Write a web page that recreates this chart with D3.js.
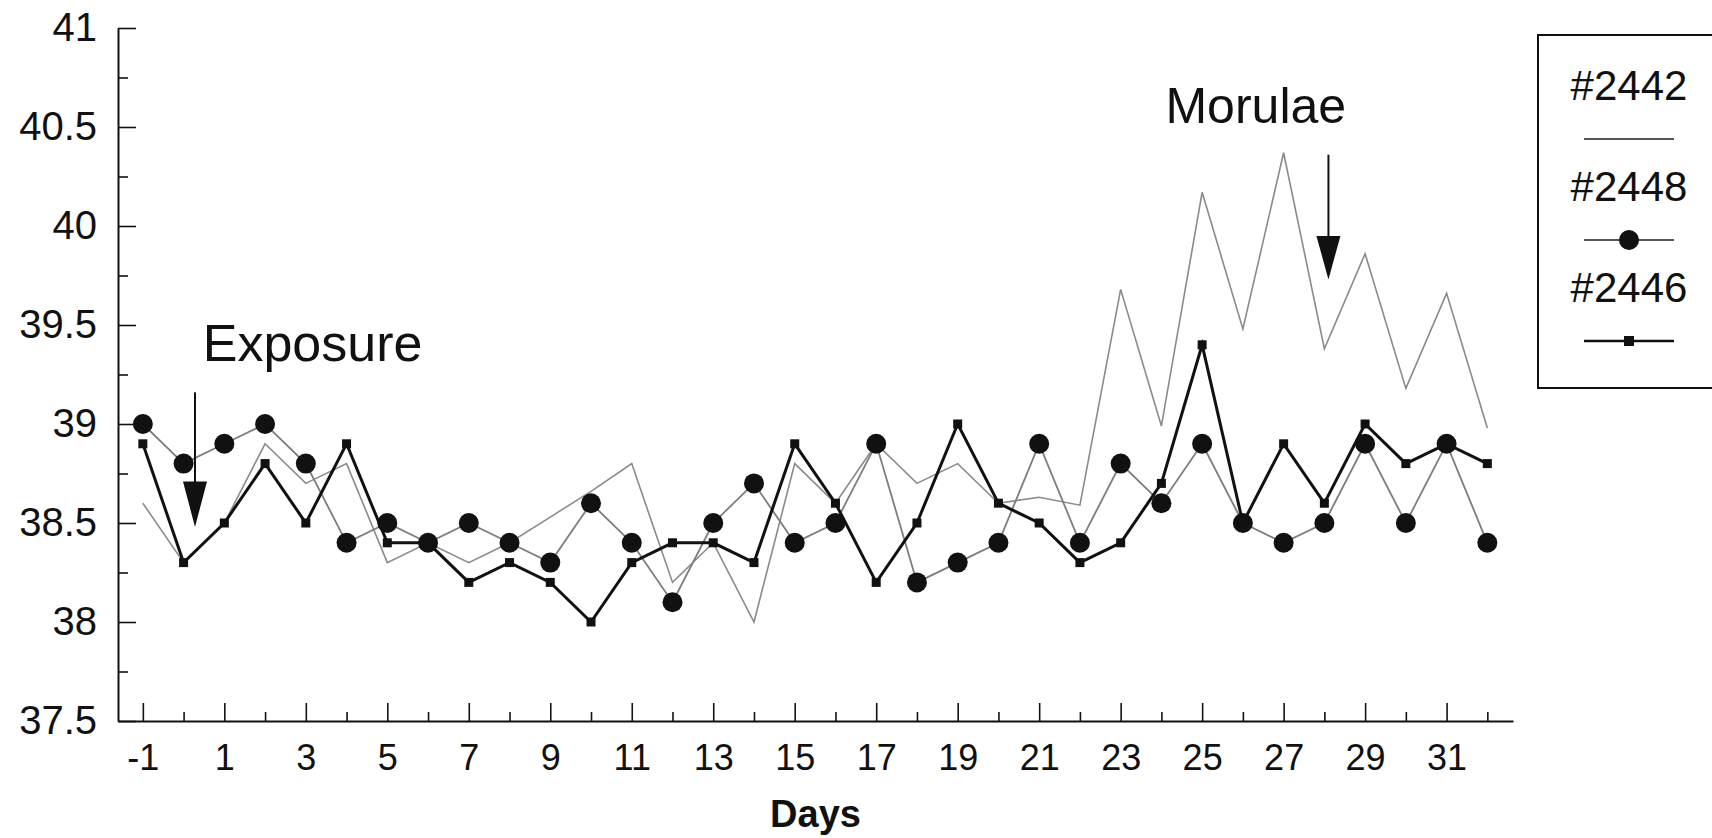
<!DOCTYPE html>
<html>
<head>
<meta charset="utf-8">
<script src="https://cdn.jsdelivr.net/npm/d3@7"></script>
<style>
	body { margin: 0; background: #fff; }
	svg text { font-family: "Liberation Sans", Arial, sans-serif; fill: #111; }
</style>
</head>
<body>
<script>
// days of the study
var days = [-1, 0, 1, 2, 3, 4, 5, 6, 7, 8, 9, 10, 11, 12, 13, 14, 15, 16,
	17, 18, 19, 20, 21, 22, 23, 24, 25, 26, 27, 28, 29, 30, 31, 32];

// body temperature per animal
var s2442 = [38.6, 38.3, 38.5, 38.9, 38.7, 38.8, 38.3, 38.4, 38.3, 38.4, 38.53, 38.66,
	38.8, 38.2, 38.4, 38.0, 38.8, 38.6, 38.9, 38.7, 38.8, 38.6, 38.63, 38.59,
	39.68, 38.99, 40.17, 39.48, 40.37, 39.38, 39.86, 39.18, 39.66, 38.98];
var s2448 = [39.0, 38.8, 38.9, 39.0, 38.8, 38.4, 38.5, 38.4, 38.5, 38.4, 38.3, 38.6,
	38.4, 38.1, 38.5, 38.7, 38.4, 38.5, 38.9, 38.2, 38.3, 38.4, 38.9, 38.4,
	38.8, 38.6, 38.9, 38.5, 38.4, 38.5, 38.9, 38.5, 38.9, 38.4];
var s2446 = [38.9, 38.3, 38.5, 38.8, 38.5, 38.9, 38.4, 38.4, 38.2, 38.3, 38.2, 38.0,
	38.3, 38.4, 38.4, 38.3, 38.9, 38.6, 38.2, 38.5, 39.0, 38.6, 38.5, 38.3,
	38.4, 38.7, 39.4, 38.5, 38.9, 38.6, 39.0, 38.8, 38.9, 38.8];

var seriesNames = ["#2442", "#2448", "#2446"];

// tick values
var yMajor = [37.5, 38, 38.5, 39, 39.5, 40, 40.5, 41];
var yMinor = [37.75, 38.25, 38.75, 39.25, 39.75, 40.25, 40.75];
var xMajor = [-1, 1, 3, 5, 7, 9, 11, 13, 15, 17, 19, 21, 23, 25, 27, 29, 31];
var xMinor = [0, 2, 4, 6, 8, 10, 12, 14, 16, 18, 20, 22, 24, 26, 28, 30, 32];

// arrows: day, top, head start, tip (in temperature units)
var notes = [
	{ label: "Exposure", day: 0.28, top: 39.16, head: 38.71, tip: 38.48, textDay: 0.47, textVal: 39.32, size: 52 },
	{ label: "Morulae", day: 28.1, top: 40.36, head: 39.95, tip: 39.73, textDay: 24.1, textVal: 40.52, size: 50 }
];

var width = 1712;
var height = 838;

var svg = d3.select("body").append("svg")
	.attr("width", width)
	.attr("height", height);

var x = d3.scaleLinear().domain([-1.61, 32.63]).range([118, 1513]);
var y = d3.scaleLinear().domain([37.5, 41]).range([721, 28]);

/* axes */
var yAxis = svg.append("g")
	.attr("transform", "translate(118,0)")
	.call(d3.axisLeft(y).tickValues(yMajor).tickSizeInner(-18).tickSizeOuter(0)
		.tickPadding(21).tickFormat(function(d) { return String(d); }));
svg.append("g")
	.attr("transform", "translate(118,0)")
	.call(d3.axisLeft(y).tickValues(yMinor).tickSizeInner(-10).tickSizeOuter(0).tickFormat(""))
	.select(".domain").remove();

var xAxis = svg.append("g")
	.attr("transform", "translate(0,721)")
	.call(d3.axisBottom(x).tickValues(xMajor).tickSizeInner(-18).tickSizeOuter(0)
		.tickPadding(23).tickFormat(function(d) { return String(d); }));
svg.append("g")
	.attr("transform", "translate(0,721)")
	.call(d3.axisBottom(x).tickValues(xMinor).tickSizeInner(-9).tickSizeOuter(0).tickFormat(""))
	.select(".domain").remove();

svg.selectAll(".domain").attr("stroke", "#111").attr("stroke-width", 2);
svg.selectAll(".tick line").attr("stroke", "#111").attr("stroke-width", 1.6);
yAxis.selectAll("text").attr("font-size", 40).attr("fill", "#111")
	.attr("font-family", "Liberation Sans, Arial, sans-serif");
xAxis.selectAll("text").attr("font-size", 36).attr("fill", "#111")
	.attr("font-family", "Liberation Sans, Arial, sans-serif");

svg.append("text")
	.attr("x", (118 + 1513) / 2)
	.attr("y", 827)
	.attr("text-anchor", "middle")
	.attr("font-size", 38)
	.attr("font-weight", "bold")
	.text("Days");

/* lines */
function makeLine(vals) {
	return d3.line()
		.x(function(d, i) { return x(days[i]); })
		.y(function(d) { return y(d); })(vals);
}

svg.append("path")
	.attr("d", makeLine(s2442))
	.attr("fill", "none")
	.attr("stroke", "#8a8a8a")
	.attr("stroke-width", 1.6);

svg.append("path")
	.attr("d", makeLine(s2448))
	.attr("fill", "none")
	.attr("stroke", "#7d7d7d")
	.attr("stroke-width", 1.8);

svg.append("g").selectAll("circle")
	.data(s2448)
	.enter().append("circle")
		.attr("cx", function(d, i) { return x(days[i]); })
		.attr("cy", function(d) { return y(d); })
		.attr("r", 10)
		.attr("fill", "#111");

svg.append("path")
	.attr("d", makeLine(s2446))
	.attr("fill", "none")
	.attr("stroke", "#111")
	.attr("stroke-width", 3);

svg.append("g").selectAll("rect")
	.data(s2446)
	.enter().append("rect")
		.attr("x", function(d, i) { return x(days[i]) - 4.5; })
		.attr("y", function(d) { return y(d) - 4.5; })
		.attr("width", 9)
		.attr("height", 9)
		.attr("fill", "#111");

/* annotations */
var note = svg.append("g").selectAll("g")
	.data(notes)
	.enter().append("g");

note.append("line")
	.attr("x1", function(d) { return x(d.day); })
	.attr("x2", function(d) { return x(d.day); })
	.attr("y1", function(d) { return y(d.top); })
	.attr("y2", function(d) { return y(d.head) + 2; })
	.attr("stroke", "#111")
	.attr("stroke-width", 2);

note.append("path")
	.attr("d", function(d) {
		var cx = x(d.day), h = y(d.head), t = y(d.tip);
		return "M" + (cx - 12) + "," + h + "L" + (cx + 12) + "," + h + "L" + cx + "," + t + "Z";
	})
	.attr("fill", "#111");

note.append("text")
	.attr("x", function(d) { return x(d.textDay); })
	.attr("y", function(d) { return y(d.textVal); })
	.attr("font-size", function(d) { return d.size; })
	.text(function(d) { return d.label; });

/* legend */
var legend = svg.append("g");
legend.append("rect")
	.attr("x", 1538).attr("y", 35)
	.attr("width", 200).attr("height", 353)
	.attr("fill", "none")
	.attr("stroke", "#111")
	.attr("stroke-width", 2);

var lx = 1629;
seriesNames.forEach(function(name, i) {
	var base = 100 + i * 101;
	legend.append("text")
		.attr("x", lx)
		.attr("y", base)
		.attr("text-anchor", "middle")
		.attr("font-size", 42)
		.text(name);
	legend.append("line")
		.attr("x1", lx - 45).attr("x2", lx + 45)
		.attr("y1", base + 39).attr("y2", base + 39)
		.attr("stroke", i === 2 ? "#111" : "#555")
		.attr("stroke-width", i === 2 ? 2.5 : 1.8);
	if (i === 1) {
		legend.append("circle")
			.attr("cx", lx).attr("cy", base + 39).attr("r", 10).attr("fill", "#111");
	}
	if (i === 2) {
		legend.append("rect")
			.attr("x", lx - 5).attr("y", base + 34).attr("width", 10).attr("height", 10).attr("fill", "#111");
	}
});
</script>
</body>
</html>
